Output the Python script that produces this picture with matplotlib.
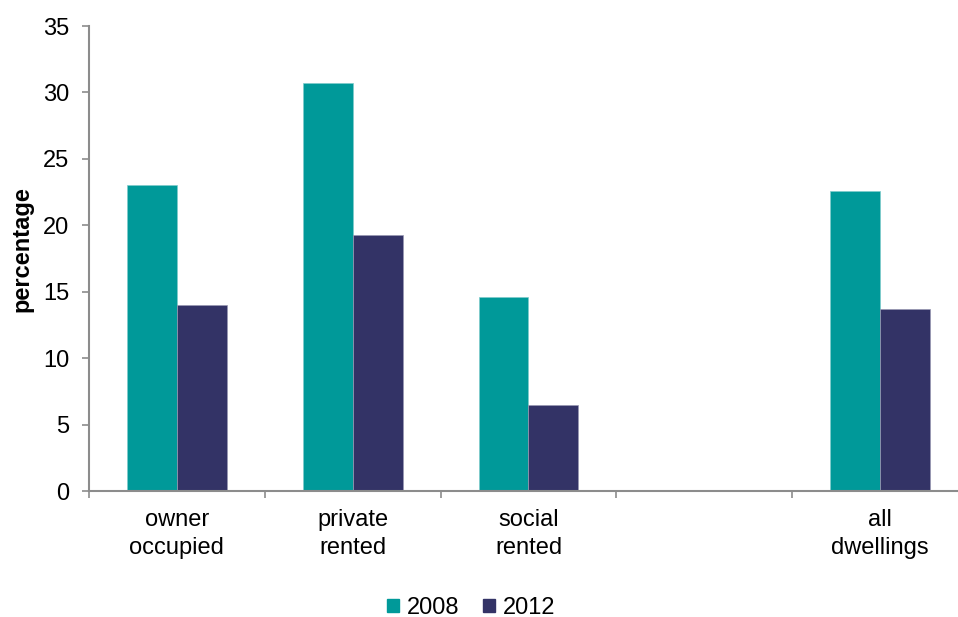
#!/usr/bin/env python3
# coding: utf-8

import numpy as np
import matplotlib
matplotlib.use('Agg')
import matplotlib.pyplot as plt
from matplotlib.patches import Patch

categories = ['owner\noccupied', 'private\nrented', 'social\nrented', '', 'all\ndwellings']
series_names = ['2008', '2012']
values_2008 = [23.0, 30.7, 14.6, np.nan, 22.6]
values_2012 = [14.0, 19.3, 6.5, np.nan, 13.7]
y_ticks = [0, 5, 10, 15, 20, 25, 30, 35]

TEAL = '#009999'
NAVY = '#333366'
GREY = '#8c8c8c'
FS = 17


def main():
    plt.rcParams['font.family'] = ['Liberation Sans', 'DejaVu Sans']
    fig = plt.figure(figsize=(9.58, 6.17), dpi=100)
    ax = fig.add_axes([0.0929, 0.2042, 0.9175, 0.7536])

    x = np.arange(len(categories))
    w = 0.284
    ax.bar(x - w / 2, values_2008, w, color=TEAL, edgecolor='#7fcccc', linewidth=0.5)
    ax.bar(x + w / 2, values_2012, w, color=NAVY, edgecolor='#9999b3', linewidth=0.5)

    ax.set_xlim(-0.5, len(categories) - 0.5)
    ax.set_ylim(0, 35)
    ax.set_yticks(y_ticks)
    ax.tick_params(axis='y', labelsize=FS, length=5, width=1.2, color=GREY, pad=9)

    # category labels in the middle, ticks on the boundaries
    ax.set_xticks(x)
    ax.set_xticklabels(categories, fontsize=FS, linespacing=1.35)
    ax.tick_params(axis='x', length=0, pad=13)
    ax.set_xticks(np.arange(len(categories) + 1) - 0.5, minor=True)
    ax.tick_params(axis='x', which='minor', length=5, width=1.2, color=GREY)

    for s in ['top', 'right']:
        ax.spines[s].set_visible(False)
    for s in ['left', 'bottom']:
        ax.spines[s].set_color(GREY)
        ax.spines[s].set_linewidth(1.5)

    ax.set_ylabel('percentage', fontsize=FS, fontweight='bold')
    ax.yaxis.set_label_coords(-0.063, 0.52)

    handles = [Patch(color=TEAL), Patch(color=NAVY)]
    fig.legend(handles, series_names, loc='center', bbox_to_anchor=(0.492, 0.015),
               ncol=2, frameon=False, fontsize=FS, handlelength=0.5, handleheight=0.5,
               handletextpad=0.35, columnspacing=1.0)

    fig.savefig('out.png', dpi=100)


if __name__ == '__main__':
    main()
